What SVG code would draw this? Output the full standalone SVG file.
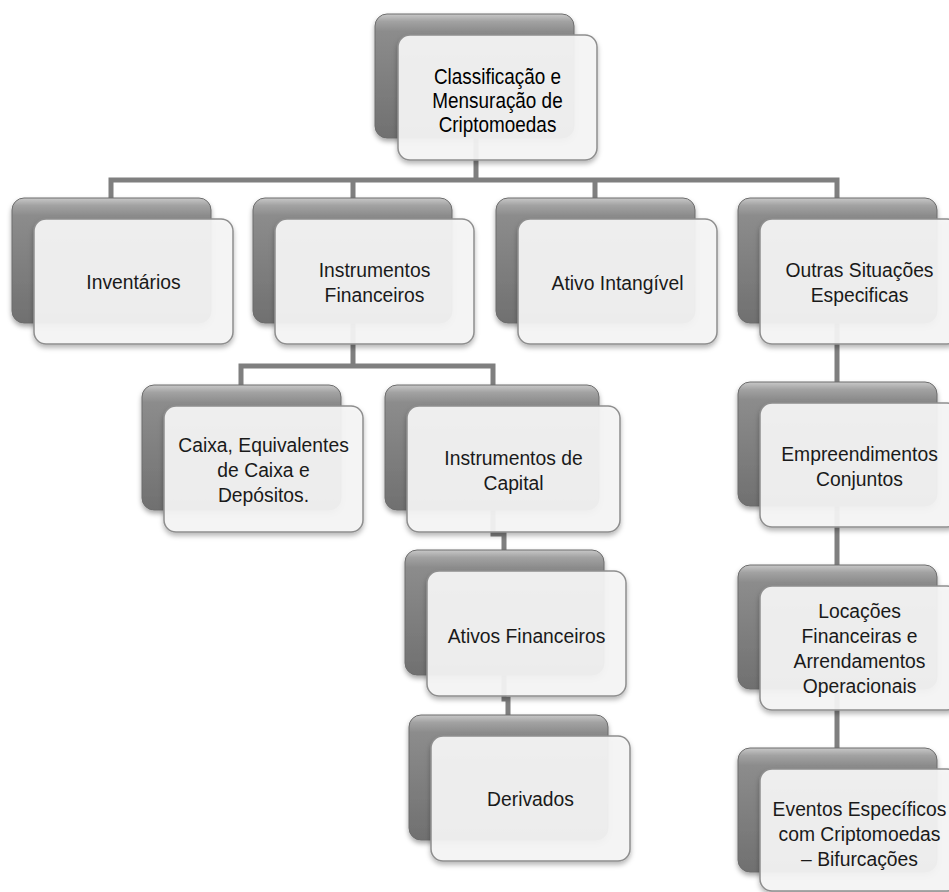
<svg xmlns="http://www.w3.org/2000/svg" width="949" height="892" viewBox="0 0 949 892">
<defs>
<linearGradient id="gd" x1="0" y1="0" x2="0" y2="1">
<stop offset="0" stop-color="#c8c8c8"/>
<stop offset="0.06" stop-color="#a2a2a2"/>
<stop offset="0.14" stop-color="#8c8c8c"/>
<stop offset="1" stop-color="#707070"/>
</linearGradient>
<filter id="sh" x="-10%" y="-10%" width="125%" height="130%">
<feDropShadow dx="0" dy="3" stdDeviation="2.5" flood-color="#000" flood-opacity="0.35"/>
</filter>
<filter id="sh2" x="-10%" y="-10%" width="125%" height="130%">
<feDropShadow dx="0" dy="3" stdDeviation="2.5" flood-color="#000" flood-opacity="0.3"/>
</filter>
</defs>
<style>
.dark{fill:url(#gd);stroke:#6c6c6c;stroke-width:1;filter:url(#sh);}
.front{fill:#f5f5f5;fill-opacity:0.93;stroke:#8e8e8e;stroke-width:1.5;filter:url(#sh2);}
.conn path{fill:none;stroke:#7f7f7f;stroke-width:5;stroke-linejoin:miter;}
.t{font-family:"Liberation Sans",Arial,sans-serif;font-size:21px;fill:#1a1a1a;text-anchor:middle;}
.tt{font-family:"Liberation Sans",Arial,sans-serif;font-size:22px;fill:#000;text-anchor:middle;}
</style>
<rect width="949" height="892" fill="#ffffff"/>
<g class="conn" id="connectors">
<path d="M476,138 V180"/>
<path d="M111,200 V180 H837 V200 M353,180 V200 M595,180 V200"/>
<path d="M837,323 V750"/>
<path d="M353,323 V366"/>
<path d="M241,387 V366 H493 V387"/>
<path d="M493,510 V534 H504 V552"/>
<path d="M504,675 V699 H508 V717"/>
</g>
<g id="n-top">
<rect class="dark" x="375" y="14" width="199" height="124" rx="12"/>
<rect class="front" x="398" y="35" width="199" height="125" rx="12"/>
<g transform="translate(497.5 0) scale(0.86 1)"><text class="tt"><tspan x="0" y="84">Classificação e</tspan><tspan x="0" y="108">Mensuração de</tspan><tspan x="0" y="132">Criptomoedas</tspan></text></g>
</g>
<g id="n-inventarios">
<rect class="dark" x="12" y="198" width="199" height="125" rx="12"/>
<rect class="front" x="34" y="219" width="199" height="125" rx="12"/>
<g transform="translate(133.5 0) scale(0.92 1)"><text class="t"><tspan x="0" y="289">Inventários</tspan></text></g>
</g>
<g id="n-instfin">
<rect class="dark" x="253" y="198" width="199" height="125" rx="12"/>
<rect class="front" x="275" y="219" width="199" height="125" rx="12"/>
<g transform="translate(374.5 0) scale(0.92 1)"><text class="t"><tspan x="0" y="277">Instrumentos</tspan><tspan x="0" y="302">Financeiros</tspan></text></g>
</g>
<g id="n-ativoint">
<rect class="dark" x="496" y="198" width="199" height="125" rx="12"/>
<rect class="front" x="518" y="219" width="199" height="125" rx="12"/>
<g transform="translate(617.5 0) scale(0.92 1)"><text class="t"><tspan x="0" y="290">Ativo Intangível</tspan></text></g>
</g>
<g id="n-outras">
<rect class="dark" x="738" y="198" width="199" height="125" rx="12"/>
<rect class="front" x="760" y="219" width="199" height="125" rx="12"/>
<g transform="translate(859.5 0) scale(0.92 1)"><text class="t"><tspan x="0" y="277">Outras Situações</tspan><tspan x="0" y="302">Especificas</tspan></text></g>
</g>
<g id="n-caixa">
<rect class="dark" x="142" y="385" width="199" height="125" rx="12"/>
<rect class="front" x="164" y="406" width="199" height="126" rx="12"/>
<g transform="translate(263.5 0) scale(0.92 1)"><text class="t"><tspan x="0" y="452">Caixa, Equivalentes</tspan><tspan x="0" y="477">de Caixa e</tspan><tspan x="0" y="502">Depósitos.</tspan></text></g>
</g>
<g id="n-instcap">
<rect class="dark" x="385" y="385" width="214" height="125" rx="12"/>
<rect class="front" x="407" y="406" width="213" height="126" rx="12"/>
<g transform="translate(513.5 0) scale(0.92 1)"><text class="t"><tspan x="0" y="465">Instrumentos de</tspan><tspan x="0" y="490">Capital</tspan></text></g>
</g>
<g id="n-ativos">
<rect class="dark" x="405" y="550" width="199" height="125" rx="12"/>
<rect class="front" x="427" y="571" width="199" height="125" rx="12"/>
<g transform="translate(526.5 0) scale(0.92 1)"><text class="t"><tspan x="0" y="643">Ativos Financeiros</tspan></text></g>
</g>
<g id="n-derivados">
<rect class="dark" x="409" y="715" width="199" height="125" rx="12"/>
<rect class="front" x="431" y="736" width="199" height="125" rx="12"/>
<g transform="translate(530.5 0) scale(0.92 1)"><text class="t"><tspan x="0" y="806">Derivados</tspan></text></g>
</g>
<g id="n-empre">
<rect class="dark" x="738" y="382" width="199" height="124" rx="12"/>
<rect class="front" x="760" y="403" width="199" height="124" rx="12"/>
<g transform="translate(859.5 0) scale(0.92 1)"><text class="t"><tspan x="0" y="461">Empreendimentos</tspan><tspan x="0" y="486">Conjuntos</tspan></text></g>
</g>
<g id="n-locacoes">
<rect class="dark" x="738" y="565" width="199" height="124" rx="12"/>
<rect class="front" x="760" y="586" width="199" height="124" rx="12"/>
<g transform="translate(859.5 0) scale(0.92 1)"><text class="t"><tspan x="0" y="618">Locações</tspan><tspan x="0" y="643">Financeiras e</tspan><tspan x="0" y="668">Arrendamentos</tspan><tspan x="0" y="693">Operacionais</tspan></text></g>
</g>
<g id="n-eventos">
<rect class="dark" x="738" y="748" width="199" height="124" rx="12"/>
<rect class="front" x="760" y="769" width="199" height="122" rx="12"/>
<g transform="translate(859.5 0) scale(0.92 1)"><text class="t"><tspan x="0" y="816">Eventos Específicos</tspan><tspan x="0" y="841">com Criptomoedas</tspan><tspan x="0" y="866">– Bifurcações</tspan></text></g>
</g>
</svg>
